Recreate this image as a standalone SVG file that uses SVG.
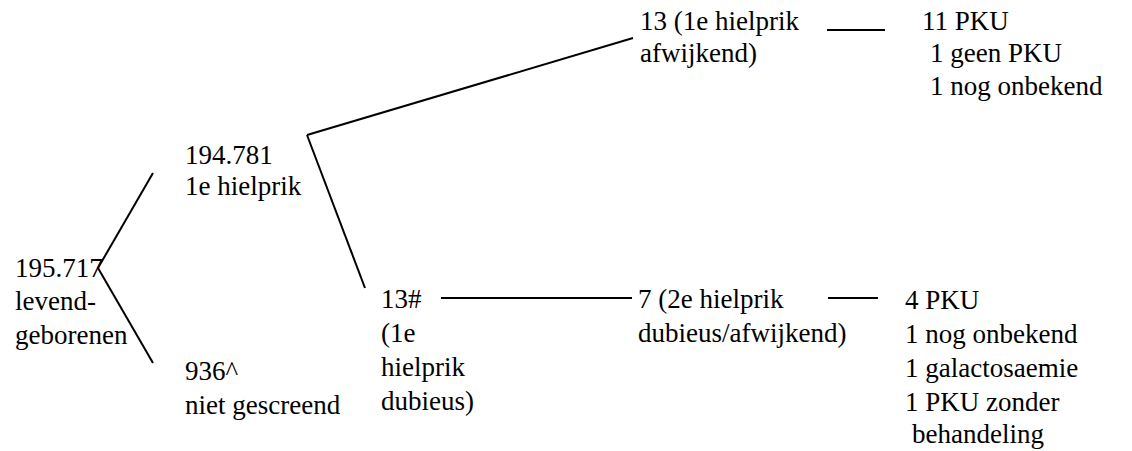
<svg xmlns="http://www.w3.org/2000/svg" width="1132" height="451" viewBox="0 0 1132 451">
<style>
.t{font-size:27px;fill:#000}
.c line{stroke:#000;stroke-width:2;fill:none}
</style>
<rect width="1132" height="451" fill="#fff"/>
<g class="c" id="connectors">
<line x1="153" y1="173" x2="98" y2="268"/>
<line x1="98" y1="268" x2="153" y2="363"/>
<line x1="307" y1="135" x2="633" y2="38"/>
<line x1="307" y1="135" x2="365" y2="288"/>
<line x1="441" y1="298" x2="632" y2="298"/>
<line x1="828" y1="298" x2="878" y2="298"/>
<line x1="827" y1="30" x2="885" y2="30"/>
</g>
<g class="t" font-family="Liberation Serif, serif">
<g id="n-root"><text x="15" y="277">195.717</text><text x="15" y="310">levend-</text><text x="15" y="344">geborenen</text></g>
<g id="n-screened"><text x="185" y="164">194.781</text><text x="185" y="195">1e hielprik</text></g>
<g id="n-notscreened"><text x="185" y="380">936^</text><text x="185" y="414">niet gescreend</text></g>
<g id="n-abnormal"><text x="640" y="30">13 (1e hielprik</text><text x="640" y="62">afwijkend)</text></g>
<g id="n-abnormal-out"><text x="922" y="30">11 PKU</text><text x="930" y="62">1 geen PKU</text><text x="930" y="95">1 nog onbekend</text></g>
<g id="n-dubious"><text x="381" y="308">13#</text><text x="381" y="342">(1e</text><text x="381" y="376">hielprik</text><text x="381" y="410">dubieus)</text></g>
<g id="n-second"><text x="638" y="308">7 (2e hielprik</text><text x="638" y="342">dubieus/afwijkend)</text></g>
<g id="n-second-out"><text x="905" y="309">4 PKU</text><text x="905" y="343">1 nog onbekend</text><text x="905" y="377">1 galactosaemie</text><text x="905" y="411">1 PKU zonder</text><text x="912" y="443">behandeling</text></g>
</g>
</svg>
